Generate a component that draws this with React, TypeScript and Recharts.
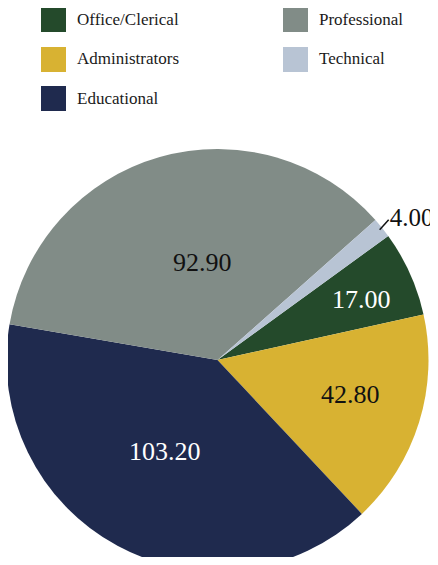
import { PieChart, Pie, Cell } from "recharts";

const categories = ["Office/Clerical", "Administrators", "Educational", "Professional", "Technical"];
const values = [17.0, 42.8, 103.2, 92.9, 4.0];
const colors = ["#244a2b", "#d8b232", "#1f2a4e", "#818c87", "#b8c4d4"];
const labelColors = ["#ffffff", "#111111", "#ffffff", "#111111", "#111111"];
// radius factor, angle offset (deg) for each slice label
const labelPlace: [number, number][] = [
  [0.74, -1.3],
  [0.65, 2.8],
  [0.5, -1.7],
  [0.47, -7],
  [1, 0],
];

const data = categories.map((name, i) => ({ name, value: values[i] }));

const RADIAN = Math.PI / 180;
const SVG_FONT = "Liberation Serif";
const CSS_FONT = '"Liberation Serif"';

const renderLabel = (props: any) => {
  const { cx, cy, midAngle, outerRadius, index, value } = props;
  const text = Number(value).toFixed(2);
  if (index === 4) {
    // small slice: label outside with a short leader
    const a = -midAngle * RADIAN;
    const x1 = cx + (outerRadius - 3) * Math.cos(a);
    const y1 = cy + (outerRadius - 3) * Math.sin(a);
    const x2 = x1 + 9;
    const y2 = y1 - 10;
    return (
      <g>
        <line x1={x1} y1={y1} x2={x2} y2={y2} stroke="#111" strokeWidth={1.5} />
        <text
          x={x2 + 1}
          y={y2 - 2}
          fill={labelColors[index]}
          fontSize={25}
          fontFamily={SVG_FONT}
          textAnchor="start"
          dominantBaseline="central"
        >
          {text}
        </text>
      </g>
    );
  }
  const [f, off] = labelPlace[index];
  const a = -(midAngle + off) * RADIAN;
  const r = outerRadius * f;
  return (
    <text
      x={cx + r * Math.cos(a)}
      y={cy + r * Math.sin(a)}
      fill={labelColors[index]}
      fontSize={26}
      fontFamily={SVG_FONT}
      textAnchor="middle"
      dominantBaseline="central"
    >
      {text}
    </text>
  );
};

const legendCols = [
  [0, 1, 2],
  [3, 4],
];
const colX = [41, 283];

function ChartLegend() {
  return (
    <div style={{ position: "absolute", left: 0, top: 0, width: 438, height: 120 }}>
      {legendCols.map((col, c) =>
        col.map((idx, r) => (
          <div
            key={idx}
            style={{
              position: "absolute",
              left: colX[c],
              top: 7 + r * 39.5,
              display: "flex",
              alignItems: "center",
              height: 25,
            }}
          >
            <div style={{ width: 25, height: 25, background: colors[idx] }} />
            <span
              style={{
                marginLeft: 11,
                fontFamily: CSS_FONT,
                fontSize: 17,
                color: "#1a1a1a",
                whiteSpace: "nowrap",
              }}
            >
              {categories[idx]}
            </span>
          </div>
        ))
      )}
    </div>
  );
}

export default function App() {
  return (
    <div
      style={{
        position: "relative",
        margin: -8,
        width: 438,
        height: 565,
        overflow: "hidden",
        background: "#fff",
        fontFamily: CSS_FONT,
      }}
    >
      <PieChart
        width={438}
        height={565}
        margin={{ top: 0, right: 0, bottom: 0, left: 0 }}
        style={{ overflow: "visible" }}
      >
        <Pie
          data={data}
          dataKey="value"
          nameKey="name"
          cx={217.5}
          cy={360}
          outerRadius={211}
          startAngle={36}
          endAngle={-324}
          stroke="none"
          label={renderLabel}
          labelLine={false}
          isAnimationActive={false}
        >
          {data.map((d, i) => (
            <Cell key={d.name} fill={colors[i]} />
          ))}
        </Pie>
      </PieChart>
      <ChartLegend />
    </div>
  );
}
